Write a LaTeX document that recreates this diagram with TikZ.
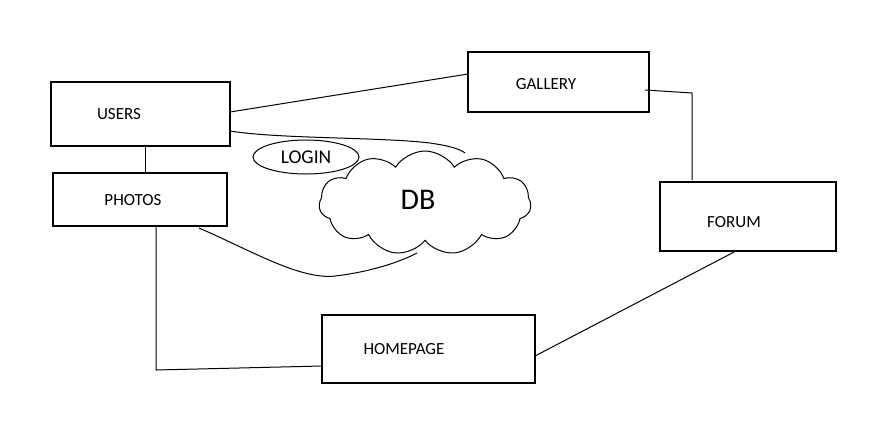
\documentclass[tikz,border=0pt]{standalone}
\usepackage{fontspec}
\setmainfont{Carlito}
\usetikzlibrary{shapes.symbols,shapes.geometric}
\begin{document}
\begin{tikzpicture}[x=1pt,y=-1pt,
  box/.style={draw,line width=1.1pt},
  lbl/.style={font=\fontsize{17}{19}\selectfont,inner sep=0pt},
  wire/.style={line width=1pt}]
\useasboundingbox (0,0) rectangle (872,426);
\fill[white] (0,0) rectangle (872,426);
% boxes
\draw[box] (51,82) rectangle (230,146);
\node[lbl] (users) at (119,114) {USERS};
\coordinate (usersB) at (145,146);
\draw[box] (53,173) rectangle (227,226);
\node[lbl] (photos) at (133,200) {PHOTOS};
\coordinate (photosT) at (145,173);
\draw[box] (468,52) rectangle (649,112);
\node[lbl] (gallery) at (546,84) {GALLERY};
\draw[box] (660,182) rectangle (836,251);
\node[lbl] (forum) at (734,222) {FORUM};
\draw[box] (322,315) rectangle (535,383);
\node[lbl] (homepage) at (404,349) {HOMEPAGE};
% login and db
\node[draw,ellipse,line width=1pt,minimum width=106pt,minimum height=34pt,inner sep=0pt,font=\fontsize{19.5}{21}\selectfont] (login) at (306,157) {LOGIN};
\node[draw,cloud,cloud puffs=11,cloud puff arc=115,aspect=2.1,line width=1pt,minimum width=212pt,minimum height=104pt,inner sep=0pt] (db) at (425,203) {};
\node[font=\fontsize{30}{34}\selectfont,inner sep=0pt] (dbl) at (418,200) {DB};
% coordinates for connectors
\coordinate (uR1) at (230,112);
\coordinate (gL) at (468,74);
\coordinate (uR2) at (230,131);
\coordinate (dbT) at (465,153);
\coordinate (pB) at (156,226);
\coordinate (pCorner) at (156,370);
\coordinate (hL) at (322,366);
\coordinate (pR) at (199,228);
\coordinate (dbB) at (417,253);
\coordinate (gR) at (645,90);
\coordinate (gfC) at (692,93);
\coordinate (fT) at (692,180);
\coordinate (fB) at (736,251);
\coordinate (hR) at (535,356);
% connectors
\draw[wire] (usersB) -- (photosT);
\draw[wire] (uR1) -- (gL);
\draw[wire] (uR2) .. controls (280,139) and (380,137) .. (430,143) .. controls (450,146) and (460,149) .. (dbT);
\draw[wire] (pR) .. controls (250,250) and (300,280) .. (335,276) .. controls (370,272) and (400,262) .. (dbB);
\draw[wire] (pB) -- (pCorner) -- (hL);
\draw[wire] (gR) -- (gfC) -- (fT);
\draw[wire] (fB) -- (hR);
\end{tikzpicture}
\end{document}
